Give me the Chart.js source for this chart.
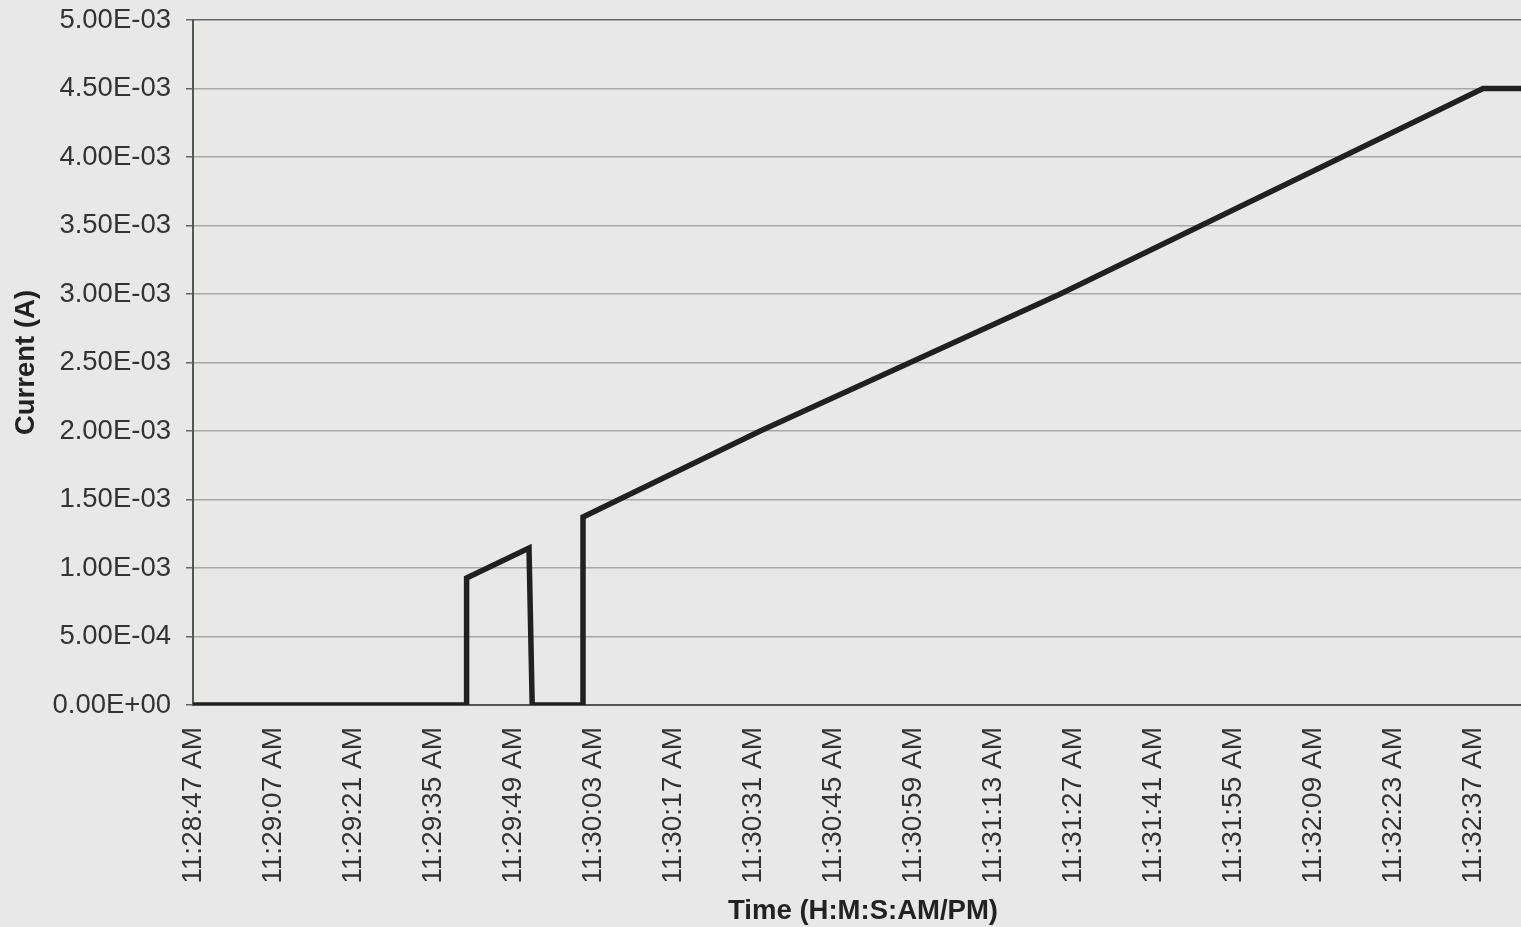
<!DOCTYPE html>
<html>
<head>
<meta charset="utf-8">
<script src="https://cdn.jsdelivr.net/npm/chart.js@4/dist/chart.umd.min.js"></script>
<style>
  html, body { margin: 0; padding: 0; overflow: hidden; background: #e8e8e8; }
  #wrap { width: 1545px; height: 927px; position: relative; }
</style>
</head>
<body>
<div id="wrap"><canvas id="myChart"></canvas></div>
<script>
/* globals Chart:false */

// tick labels on the time axis (one per category slot)
var timeLabels = [
  '11:28:47 AM', '11:29:07 AM', '11:29:21 AM', '11:29:35 AM', '11:29:49 AM',
  '11:30:03 AM', '11:30:17 AM', '11:30:31 AM', '11:30:45 AM', '11:30:59 AM',
  '11:31:13 AM', '11:31:27 AM', '11:31:41 AM', '11:31:55 AM', '11:32:09 AM',
  '11:32:23 AM', '11:32:37 AM'
]

// position along the time axis, in label slots, and the current (A)
var slots = [0, 3.42, 3.42, 4.20, 4.24, 4.875, 4.875, 7.09, 10.84, 16.125, 16.75]
var current = [0, 0, 0.000927, 0.001146, 0, 0, 0.001372, 0.0020, 0.0030, 0.0045, 0.0045]

var yTicks = [0, 0.0005, 0.001, 0.0015, 0.002, 0.0025, 0.003, 0.0035, 0.004, 0.0045, 0.005]

function sci(v) {
  var s = Number(v).toExponential(2).toUpperCase()
  var parts = s.split('E')
  var exp = parseInt(parts[1], 10)
  var sign = exp < 0 ? '-' : '+'
  exp = Math.abs(exp)
  return parts[0] + 'E' + sign + (exp < 10 ? '0' : '') + exp
}

var points = slots.map(function (s, i) { return { x: s, y: current[i] } })

var bgPlugin = {
  id: 'bg',
  beforeDraw: function (chart) {
    var c = chart.ctx
    c.save()
    c.fillStyle = '#e8e8e8'
    c.fillRect(0, 0, chart.width, chart.height)
    c.restore()
  }
}

var font = "'Liberation Sans', Arial, sans-serif"

var ctx = document.getElementById('myChart')
// eslint-disable-next-line no-unused-vars
var myChart = new Chart(ctx, {
  type: 'line',
  data: {
    datasets: [{
      data: points,
      borderColor: '#202020',
      borderWidth: 5.5,
      pointRadius: 0,
      tension: 0,
      fill: false
    }]
  },
  plugins: [bgPlugin],
  options: {
    responsive: true,
    maintainAspectRatio: false,
    animation: false,
    layout: { padding: { top: 20, right: 12, left: 0, bottom: 0 } },
    plugins: {
      legend: { display: false },
      tooltip: { enabled: false }
    },
    scales: {
      x: {
        type: 'linear',
        min: 0,
        max: 16.75,
        afterBuildTicks: function (scale) {
          scale.ticks = timeLabels.map(function (t, i) { return { value: i } })
        },
        afterFit: function (scale) { scale.height = 222 },
        grid: { display: false, drawTicks: false },
        border: { display: true, color: '#555555', width: 2 },
        ticks: {
          autoSkip: false,
          minRotation: 90,
          maxRotation: 90,
          padding: 22,
          color: '#333333',
          font: { family: font, size: 28 },
          callback: function (v) { return timeLabels[v] }
        },
        title: {
          display: true,
          text: 'Time (H:M:S:AM/PM)',
          color: '#222222',
          padding: { top: 0, bottom: 2 },
          font: { family: font, size: 27.5, weight: 'bold', lineHeight: 1 }
        }
      },
      y: {
        min: 0,
        max: 0.005,
        afterBuildTicks: function (scale) {
          scale.ticks = yTicks.map(function (v) { return { value: v } })
        },
        afterFit: function (scale) {
          scale.width = 193
          scale.paddingTop = 0
          scale.paddingBottom = 0
        },
        grid: {
          color: function (c) { return c.tick && c.tick.value === 0.005 ? '#666666' : '#a8a8a8' },
          lineWidth: 1.5,
          tickLength: 7,
          tickColor: '#666666'
        },
        border: { display: true, color: '#4d5a4d', width: 2 },
        ticks: {
          padding: 15,
          color: '#333333',
          font: { family: font, size: 27.5 },
          callback: function (v) { return sci(v) }
        },
        title: {
          display: true,
          text: 'Current (A)',
          color: '#222222',
          padding: { top: 10, bottom: 0 },
          font: { family: font, size: 27.5, weight: 'bold' }
        }
      }
    }
  }
})
</script>
</body>
</html>
